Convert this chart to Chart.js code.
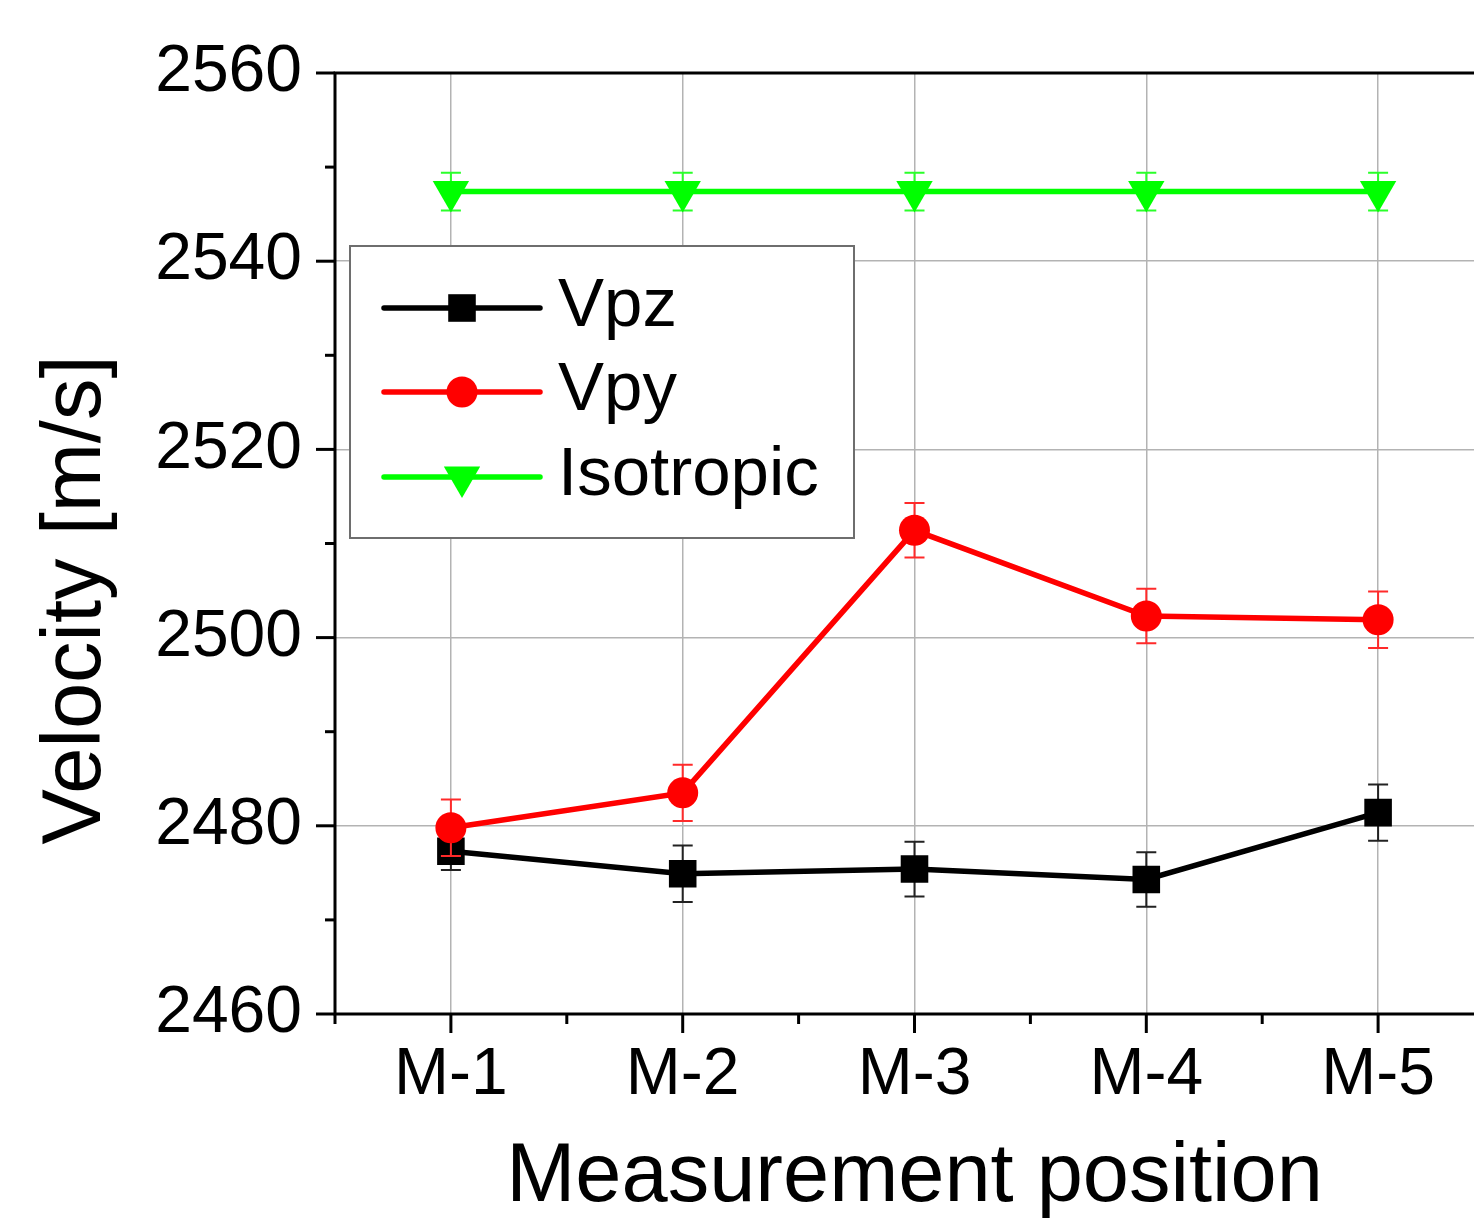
<!DOCTYPE html>
<html>
<head>
<meta charset="utf-8">
<script src="https://cdn.jsdelivr.net/npm/chart.js@4/dist/chart.umd.min.js"></script>
<style>
  html, body { margin: 0; padding: 0; background: #fff; overflow: hidden; }
  #wrap { position: absolute; left: 0; top: 0; width: 1520px; height: 1220px; }
</style>
</head>
<body>
<div id="wrap"><canvas id="c"></canvas></div>
<script>
// ---- data ----
const categories = ['M-1', 'M-2', 'M-3', 'M-4', 'M-5'];
const vpz    = [2477.3, 2474.9, 2475.4, 2474.3, 2481.4];
const vpzErr = [2.0, 3.0, 2.9, 2.9, 3.0];
const vpy    = [2479.8, 2483.5, 2511.4, 2502.3, 2501.9];
const vpyErr = [3.0, 3.0, 2.9, 2.9, 3.0];
const iso    = [2547.4, 2547.4, 2547.4, 2547.4, 2547.4];
const isoErr = [2.0, 2.0, 2.0, 2.0, 2.0];
const seriesNames = ['Vpz', 'Vpy', 'Isotropic'];
const yMin = 2460, yMax = 2560, yMinorStep = 10, yMajorStep = 20;
const xTitle = 'Measurement position';
const yTitle = 'Velocity [m/s]';

const FONT = '"Liberation Sans", Arial, Helvetica, sans-serif';
const errors = [vpzErr, vpyErr, isoErr];

const errorBarPlugin = {
  id: 'errorBars',
  beforeDatasetDraw(chart, args) {
    const i = args.index;
    const ds = chart.data.datasets[i];
    const meta = chart.getDatasetMeta(i);
    const ys = chart.scales.y;
    const ctx = chart.ctx;
    ctx.save();
    ctx.strokeStyle = ds.errColor;
    ctx.lineWidth = 2;
    meta.data.forEach((pt, j) => {
      const v = ds.data[j], e = errors[i][j];
      const yt = ys.getPixelForValue(v + e), yb = ys.getPixelForValue(v - e);
      const x = pt.x;
      ctx.beginPath();
      ctx.moveTo(x, yt); ctx.lineTo(x, yb);
      ctx.moveTo(x - 10, yt); ctx.lineTo(x + 10, yt);
      ctx.moveTo(x - 10, yb); ctx.lineTo(x + 10, yb);
      ctx.stroke();
    });
    ctx.restore();
  }
};

const framePlugin = {
  id: 'frame',
  afterDatasetsDraw(chart) {
    const {ctx, chartArea: a, scales: {x, y}} = chart;
    ctx.save();
    ctx.strokeStyle = '#000';
    ctx.lineWidth = 3;
    ctx.lineCap = 'butt';
    ctx.strokeRect(a.left, a.top, a.right - a.left, a.bottom - a.top);
    for (let v = yMin; v <= yMax + 1e-9; v += yMinorStep) {
      const py = y.getPixelForValue(v);
      const major = Math.abs((v - yMin) % yMajorStep) < 1e-9;
      ctx.beginPath();
      ctx.moveTo(a.left, py);
      ctx.lineTo(a.left - (major ? 19 : 10), py);
      ctx.stroke();
    }
    const n = categories.length;
    for (let k = 0; k < n; k++) {
      const px = x.getPixelForValue(k);
      ctx.beginPath(); ctx.moveTo(px, a.bottom); ctx.lineTo(px, a.bottom + 19); ctx.stroke();
    }
    for (let k = -0.5; k <= n - 0.5; k += 1) {
      const px = x.getPixelForValue(k);
      ctx.beginPath(); ctx.moveTo(px, a.bottom); ctx.lineTo(px, a.bottom + 10); ctx.stroke();
    }
    ctx.fillStyle = '#000';
    ctx.font = '83px ' + FONT;
    ctx.textAlign = 'center';
    ctx.textBaseline = 'middle';
    ctx.translate(77, 600);
    ctx.rotate(-Math.PI / 2);
    ctx.fillText(yTitle, 0, 0);
    ctx.restore();

    // legend
    ctx.save();
    const bx = 350, by = 246, bw = 504, bh = 292;
    ctx.fillStyle = '#fff';
    ctx.fillRect(bx, by, bw, bh);
    ctx.strokeStyle = '#6e6e6e';
    ctx.lineWidth = 2;
    ctx.strokeRect(bx, by, bw, bh);
    const rows = [308, 392, 477];
    chart.data.datasets.forEach((ds, i) => {
      const ry = rows[i];
      ctx.strokeStyle = ds.borderColor;
      ctx.lineWidth = 5.5;
      ctx.lineCap = 'round';
      ctx.beginPath(); ctx.moveTo(384, ry); ctx.lineTo(540, ry); ctx.stroke();
      ctx.fillStyle = ds.backgroundColor;
      Chart.helpers.drawPoint(ctx, {
        pointStyle: ds.pointStyle, radius: ds.pointRadius,
        rotation: ds.pointRotation || 0, borderWidth: 0
      }, 462, ry);
      ctx.fillStyle = '#000';
      ctx.font = '69px ' + FONT;
      ctx.textAlign = 'left';
      ctx.textBaseline = 'middle';
      ctx.fillText(seriesNames[i], 558, ry - 1);
    });
    ctx.restore();
  }
};

const chart = new Chart(document.getElementById('c'), {
  type: 'line',
  data: {
    labels: categories,
    datasets: [
      { label: seriesNames[0], data: vpz, borderColor: '#000000', backgroundColor: '#000000',
        errColor: '#222222', borderWidth: 5.5, pointStyle: 'rect', pointRadius: 19.5,
        pointBorderWidth: 0, order: 3 },
      { label: seriesNames[1], data: vpy, borderColor: '#ff0000', backgroundColor: '#ff0000',
        errColor: '#ff2a2a', borderWidth: 5.5, pointStyle: 'circle', pointRadius: 15.5,
        pointBorderWidth: 0, order: 2 },
      { label: seriesNames[2], data: iso, borderColor: '#00ff00', backgroundColor: '#00ff00',
        errColor: '#2aff2a', borderWidth: 5.5, pointStyle: 'triangle', pointRotation: 180,
        pointRadius: 21, pointBorderWidth: 0, order: 1 }
    ]
  },
  options: {
    responsive: true,
    maintainAspectRatio: false,
    animation: false,
    layout: { padding: { top: 73, right: 26, left: 0, bottom: 0 } },
    plugins: { legend: { display: false }, tooltip: { enabled: false } },
    elements: { line: { tension: 0 } },
    scales: {
      x: {
        type: 'category',
        offset: true,
        grid: { color: '#b3b3b3', lineWidth: 1.5, drawTicks: false },
        border: { display: false },
        ticks: { color: '#000', font: { family: FONT, size: 66 }, padding: 22, maxRotation: 0 },
        title: { display: true, text: xTitle, color: '#000', font: { family: FONT, size: 83 },
                 padding: { top: 0, bottom: -8 } },
        afterFit(s) { s.height = 206; }
      },
      y: {
        min: yMin, max: yMax,
        grid: {
          drawTicks: false, lineWidth: 1.5,
          color: (c) => (c.tick && Math.abs((c.tick.value - yMin) % yMajorStep) < 1e-9) ? '#b3b3b3' : 'rgba(0,0,0,0)'
        },
        border: { display: false },
        ticks: {
          stepSize: yMinorStep, color: '#000', font: { family: FONT, size: 66 }, padding: 33,
          callback: (v) => (Math.abs((v - yMin) % yMajorStep) < 1e-9 ? String(v) : '')
        },
        afterFit(s) { s.width = 335; }
      }
    }
  },
  plugins: [errorBarPlugin, framePlugin]
});
</script>
</body>
</html>
